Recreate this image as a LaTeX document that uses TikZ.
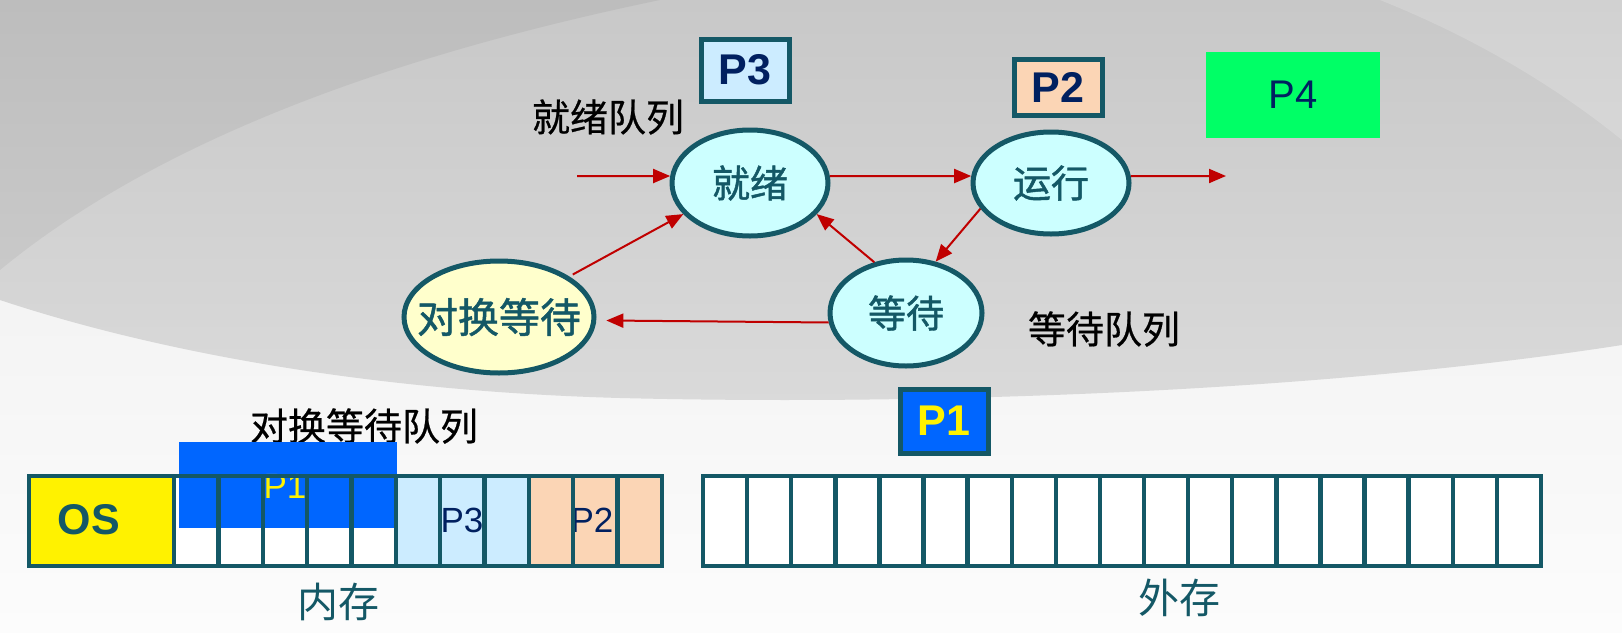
\documentclass[tikz,border=0pt]{standalone}
\usepackage{fontspec}
\setmainfont{Liberation Sans}
\newfontfamily\cjk{Noto Sans CJK SC}
\newfontfamily\cjkb[FakeBold=1.2]{Noto Sans CJK SC}
\newfontfamily\cjkm[FakeBold=0.6]{Noto Sans CJK SC}
\usetikzlibrary{shapes.geometric,arrows.meta}
\definecolor{tealb}{RGB}{20,88,102}
\definecolor{arrred}{RGB}{192,0,0}
\definecolor{cyanf}{RGB}{204,255,255}
\definecolor{yelf}{RGB}{255,255,204}
\definecolor{p3f}{RGB}{204,236,255}
\definecolor{p2f}{RGB}{251,213,181}
\definecolor{p4f}{RGB}{0,255,102}
\definecolor{p1f}{RGB}{0,102,255}
\definecolor{navy}{RGB}{0,32,96}
\definecolor{bgtop}{RGB}{200,200,200}
\definecolor{bgmid}{RGB}{218,218,218}
\definecolor{bglow}{RGB}{236,236,236}
\definecolor{bgbot}{RGB}{252,252,252}
\tikzset{
  state/.style={ellipse, draw=tealb, line width=2.5pt, fill=cyanf, inner sep=0pt,
    inner xsep=-14pt, text=tealb, font=\cjkb\fontsize{19}{19}\selectfont},
  pbox/.style={rectangle, draw=tealb, line width=2.5pt, inner sep=0pt,
    text=navy, font=\bfseries\fontsize{21.5}{21.5}\selectfont},
  qlabel/.style={text=black, font=\cjkm\fontsize{19}{19}\selectfont},
  flow/.style={draw=arrred, line width=1pt, -{Triangle[length=8.5pt,width=7pt]}},
  cell/.style={draw=tealb, line width=2.2pt},
  stlabel/.style={text=navy, font=\fontsize{17.5}{17.5}\selectfont},
  memlabel/.style={text=tealb, font=\cjk\fontsize{20.5}{20.5}\selectfont}
}
\begin{document}
\begin{tikzpicture}[x=0.5pt,y=-0.5pt]
\useasboundingbox (0,0) rectangle (1622,632);
% background
\shade[top color=bglow, bottom color=bgbot] (0,0) rectangle (1622,632);
\shade[top color=bgtop, bottom color=bgmid] (0,0) -- (1622,0) -- (1622,345)
  .. controls (1300,395) and (900,405) .. (620,398)
  .. controls (330,390) and (120,340) .. (0,300) -- cycle;
\fill[black, opacity=0.05] (0,0) -- (660,0) .. controls (420,50) and (170,130) .. (0,270) -- cycle;
\fill[white, opacity=0.18] (1380,0) .. controls (1480,40) and (1560,90) .. (1622,140) -- (1622,0) -- cycle;

% top process boxes
\node[pbox, fill=p3f, minimum width=44pt, minimum height=31pt] (p3) at (745,70) {P3};
\node[pbox, fill=p2f, minimum width=44pt, minimum height=28pt] (p2) at (1058,87) {P2};
\node[rectangle, fill=p4f, inner sep=0pt, minimum width=87pt, minimum height=43pt,
  text=navy, font=\fontsize{20}{20}\selectfont] (p4) at (1293,95) {P4};
\node[pbox, fill=p1f, text=yellow, minimum width=44pt, minimum height=32pt] (p1) at (944,421) {P1};

% queue labels
\node[qlabel] (rq) at (608,117) {就绪队列};
\node[qlabel] (wq) at (1104,329) {等待队列};
\node[qlabel] (sq) at (364,426) {对换等待队列};

% states
\node[state, minimum width=78pt, minimum height=53pt] (ready) at (750,183) {就绪};
\node[state, minimum width=78pt, minimum height=51pt] (run) at (1051,183) {运行};
\node[state, minimum width=76pt, minimum height=53pt] (wait) at (906,313) {等待};
\node[state, fill=yelf, minimum width=95pt, minimum height=56pt, inner xsep=-20pt,
  font=\cjkb\fontsize{20.5}{20.5}\selectfont] (swap) at (499,317) {对换等待};

\coordinate (in) at (577,176);
\coordinate (out) at (1226,176);

\draw[flow] (in) -- (ready.175);
\draw[flow] (ready.5) -- (run.175);
\draw[flow] (run.5) -- (out);
\draw[flow] (run.200) -- (wait.60);
\draw[flow] (wait.122) -- (ready.335);
\draw[flow, shorten >=5pt] (wait.187) -- (swap.358);
\draw[flow, shorten <=2pt] (swap.30) -- (ready.205);

% main memory strip
\fill[yellow] (29,476) rectangle (174,566);
\fill[white] (174,476) rectangle (396,566);
\fill[p3f] (396,476) rectangle (529,566);
\fill[p2f] (529,476) rectangle (662,566);
\fill[p1f] (179,442) rectangle (397,528);
\node[text=yellow, font=\fontsize{17.5}{17.5}\selectfont] (p1m) at (285,486) {P1};
\node[stlabel] (p3m) at (462,520) {P3};
\node[stlabel] (p2m) at (592,520) {P2};
\node[text=tealb, font=\bfseries\fontsize{21.5}{21.5}\selectfont] (os) at (89,520) {OS};
\draw[cell] (29,476) rectangle (662,566);
\foreach \k in {0,...,10} {
  \draw[cell] ({174+\k*44.36},476) -- ({174+\k*44.36},566);
}
\node[memlabel] (mem) at (338,602) {内存};

% external storage strip
\fill[white] (703,476) rectangle (1541,566);
\draw[cell] (703,476) rectangle (1541,566);
\foreach \k in {1,...,18} {
  \draw[cell] ({703+\k*44.105},476) -- ({703+\k*44.105},566);
}
\node[memlabel] (ext) at (1179,598) {外存};
\end{tikzpicture}
\end{document}
